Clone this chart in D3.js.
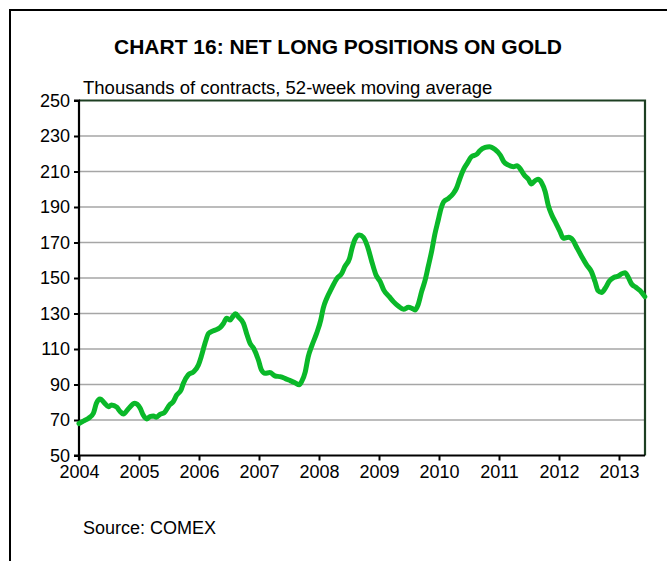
<!DOCTYPE html>
<html>
<head>
<meta charset="utf-8">
<script src="https://cdn.jsdelivr.net/npm/d3@7/dist/d3.min.js"></script>
<style>
  html, body { margin: 0; padding: 0; background: #fff; }
  svg { display: block; }
  text { font-family: "Liberation Sans", Arial, sans-serif; fill: #000; }
</style>
</head>
<body>
<script>
// Net long COMEX gold positions, thousands of contracts (52-week moving average)
const years = [
  2004.00, 2004.08, 2004.16, 2004.24, 2004.29, 2004.35, 2004.43, 2004.49, 2004.54, 2004.63,
  2004.68, 2004.74, 2004.82, 2004.93, 2005.02, 2005.07, 2005.13, 2005.18, 2005.24, 2005.29,
  2005.35, 2005.42, 2005.51, 2005.57, 2005.63, 2005.70, 2005.74, 2005.82, 2005.91, 2005.99,
  2006.04, 2006.10, 2006.16, 2006.24, 2006.35, 2006.41, 2006.46, 2006.52, 2006.57, 2006.61,
  2006.66, 2006.74, 2006.80, 2006.85, 2006.91, 2006.99, 2007.04, 2007.10, 2007.18, 2007.27,
  2007.35, 2007.43, 2007.52, 2007.60, 2007.67, 2007.71, 2007.77, 2007.82, 2007.88, 2007.96,
  2008.03, 2008.07, 2008.13, 2008.21, 2008.30, 2008.38, 2008.43, 2008.51, 2008.55, 2008.60,
  2008.67, 2008.74, 2008.81, 2008.88, 2008.95, 2009.02, 2009.08, 2009.17, 2009.24, 2009.32,
  2009.41, 2009.49, 2009.55, 2009.60, 2009.65, 2009.71, 2009.77, 2009.82, 2009.88, 2009.93,
  2009.99, 2010.02, 2010.08, 2010.16, 2010.24, 2010.29, 2010.35, 2010.41, 2010.47, 2010.54,
  2010.63, 2010.68, 2010.77, 2010.84, 2010.93, 2011.02, 2011.08, 2011.15, 2011.24, 2011.30,
  2011.36, 2011.42, 2011.49, 2011.54, 2011.60, 2011.65, 2011.71, 2011.77, 2011.82, 2011.88,
  2011.95, 2012.02, 2012.07, 2012.16, 2012.23, 2012.29, 2012.38, 2012.46, 2012.54, 2012.60,
  2012.65, 2012.71, 2012.77, 2012.84, 2012.92, 2012.99, 2013.04, 2013.10, 2013.15, 2013.21,
  2013.28, 2013.35, 2013.43
];
const netLong = [
  68.0, 69.5, 71.0, 73.8, 79.4, 81.8, 79.4, 77.5, 78.5, 77.2,
  75.0, 73.4, 76.2, 79.4, 76.6, 72.8, 70.6, 71.9, 72.2, 71.5,
  73.2, 74.1, 78.5, 80.3, 84.1, 86.9, 90.7, 95.4, 97.2, 101.0,
  106.0, 113.2, 118.8, 120.3, 122.0, 124.5, 127.3, 126.4, 128.6, 129.8,
  127.9, 124.5, 118.0, 113.2, 110.4, 103.8, 98.2, 96.3, 96.7, 94.8,
  94.4, 93.5, 92.2, 91.0, 89.8, 91.6, 97.0, 105.6, 111.8, 118.8,
  126.4, 132.9, 138.6, 144.2, 149.8, 152.6, 156.4, 161.1, 166.7, 171.8,
  174.2, 172.9, 167.6, 159.2, 151.7, 147.9, 143.2, 139.5, 136.7, 134.2,
  132.4, 133.5, 132.9, 132.0, 134.8, 142.3, 148.9, 156.4, 165.5, 174.5,
  183.0, 187.4, 193.0, 194.9, 197.7, 200.5, 206.2, 211.2, 214.6, 218.3,
  219.7, 221.7, 223.6, 224.0, 222.5, 219.3, 215.5, 213.7, 212.7, 213.3,
  211.2, 208.0, 205.6, 203.0, 204.8, 205.6, 203.7, 198.6, 191.1, 185.5,
  180.8, 176.0, 172.4, 172.9, 171.4, 167.6, 162.0, 157.4, 153.6, 148.0,
  142.9, 141.8, 144.2, 148.3, 150.4, 151.1, 152.3, 153.0, 150.7, 146.6,
  144.8, 142.9, 139.5
];
const yearTicks = [2004, 2005, 2006, 2007, 2008, 2009, 2010, 2011, 2012, 2013];
const valueTicks = [50, 70, 90, 110, 130, 150, 170, 190, 210, 230, 250];

const W = 667, H = 561;
const plot = { left: 79, right: 645, top: 100.5, bottom: 455.5 };

const svg = d3.select("body").append("svg").attr("width", W).attr("height", H);

// outer frame (runs past the right and bottom edges)
svg.append("rect")
  .attr("x", 10).attr("y", 10).attr("width", W + 20).attr("height", H + 20)
  .attr("fill", "none").attr("stroke", "#000").attr("stroke-width", 2);

svg.append("text")
  .attr("x", 338).attr("y", 53.5).attr("text-anchor", "middle")
  .attr("font-size", 21).attr("font-weight", "bold")
  .text("CHART 16: NET LONG POSITIONS ON GOLD");

svg.append("text")
  .attr("x", 83).attr("y", 94).attr("font-size", 18.5)
  .text("Thousands of contracts, 52-week moving average");

svg.append("text")
  .attr("x", 83).attr("y", 534).attr("font-size", 18)
  .text("Source: COMEX");

const x = d3.scaleLinear().domain([2004, 2004 + (plot.right - plot.left) / 60]).range([plot.left, plot.right]);
const y = d3.scaleLinear().domain([50, 250]).range([plot.bottom, plot.top]);

// horizontal gridlines
svg.append("g").selectAll("line")
  .data(valueTicks.filter(v => v > 50 && v < 250))
  .join("line")
  .attr("x1", plot.left).attr("x2", plot.right)
  .attr("y1", d => y(d)).attr("y2", d => y(d))
  .attr("stroke", "#a6a6a6").attr("stroke-width", 1.5);

// top and right border of plot area
svg.append("path")
  .attr("d", `M${plot.left},${y(250)}H${plot.right}V${plot.bottom}`)
  .attr("fill", "none").attr("stroke", "#1d3f22").attr("stroke-width", 2.2);

// axes
const yAxis = svg.append("g")
  .attr("transform", `translate(${plot.left},0)`)
  .call(d3.axisLeft(y).tickValues(valueTicks).tickSize(5).tickPadding(4).tickFormat(d3.format("d")));
const xAxis = svg.append("g")
  .attr("transform", `translate(0,${plot.bottom})`)
  .call(d3.axisBottom(x).tickValues(yearTicks).tickSize(5).tickPadding(5).tickFormat(d3.format("d")));

[yAxis, xAxis].forEach(g => {
  g.select(".domain").attr("stroke", "#000").attr("stroke-width", 2.2);
  g.selectAll(".tick line").attr("stroke", "#000").attr("stroke-width", 2);
  g.selectAll(".tick text").attr("font-size", 18)
    .attr("font-family", "Liberation Sans, Arial, sans-serif").attr("fill", "#000");
});
yAxis.select(".domain").attr("d", `M-5,${plot.top}H0V${plot.bottom}H-5`);
xAxis.select(".domain").attr("d", `M${plot.left},5V0H${plot.right}`);

// series line
const data = years.map((t, i) => ({ t, v: netLong[i] }));
const line = d3.line().x(d => x(d.t)).y(d => y(d.v)).curve(d3.curveMonotoneX);
svg.append("path")
  .datum(data)
  .attr("d", line)
  .attr("fill", "none")
  .attr("stroke", "#0ab829")
  .attr("stroke-width", 5)
  .attr("stroke-linejoin", "round")
  .attr("stroke-linecap", "round");
</script>
</body>
</html>
